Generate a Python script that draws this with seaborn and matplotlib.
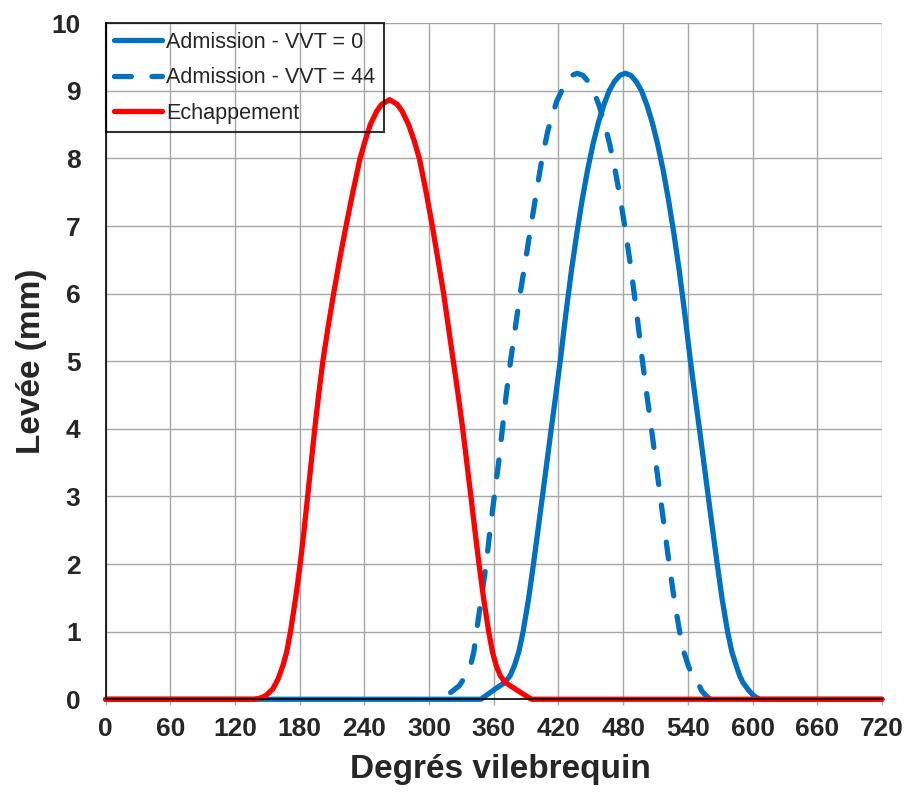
import matplotlib
matplotlib.use('Agg')
import matplotlib.pyplot as plt
import seaborn as sns
import pandas as pd

# Values (crank angle in degrees, lift in mm)
crank_adm_0 = [0, 348, 355, 362, 370.5, 375.2, 379.2, 383.2, 387.2, 392.4,
               396.8, 401, 405.1, 409.2, 413.3, 417.5, 422, 427, 432, 437, 442,
               447, 452, 457, 462, 467, 472, 477, 482, 487, 492, 497, 502, 507,
               512, 517, 522, 527, 532, 537, 542, 546.5, 550.7, 554.8, 558.9,
               563, 567.2, 571.6, 576.8, 580.8, 584.8, 588, 591, 597, 602, 607,
               720]
lift_adm_0 = [0, 0, 0.08, 0.16, 0.25, 0.35, 0.5, 0.7, 1.0, 1.5,
              2.0, 2.5, 3.0, 3.5, 4.0, 4.5, 5.05, 5.72, 6.34, 6.89, 7.39,
              7.83, 8.21, 8.53, 8.79, 9.0, 9.14, 9.23, 9.26, 9.23, 9.14, 9.0,
              8.79, 8.53, 8.21, 7.83, 7.39, 6.89, 6.34, 5.72, 5.05, 4.5, 4.0,
              3.5, 3.0, 2.5, 2.0, 1.5, 1.0, 0.7, 0.5, 0.35, 0.25, 0.12, 0.04,
              0, 0]

crank_adm_44 = [320, 328, 334, 338.5, 341.5, 344, 348.5, 353, 356.5, 360.5,
                364.5, 368, 371.5, 375.5, 380, 384.5, 389.5, 394.5, 399.5,
                404.8, 410, 414.5, 418.5, 423, 427.5, 432.5, 437.5, 442.5,
                447.5, 452.5, 457.5, 462.5, 467.5, 472.5, 477.5, 482.5, 487.5,
                492.5, 497.5, 502, 506.2, 510.3, 514.4, 518.5, 522.7, 527.1,
                532.3, 536.3, 540.3, 544.3, 549, 553, 557, 561]
lift_adm_44 = [0.1, 0.2, 0.35, 0.5, 0.7, 1.0, 1.5, 2.0, 2.5, 3.0,
               3.5, 4.0, 4.5, 5.0, 5.5, 6.0, 6.5, 7.0, 7.5,
               8.0, 8.4, 8.65, 8.85, 9.0, 9.14, 9.23, 9.26, 9.23,
               9.14, 9.0, 8.79, 8.53, 8.21, 7.83, 7.39, 6.89, 6.34,
               5.72, 5.05, 4.5, 4.0, 3.5, 3.0, 2.5, 2.0, 1.5,
               1.0, 0.7, 0.5, 0.35, 0.25, 0.12, 0.05, 0]

crank_ech = [0, 138, 144, 149, 155, 160, 164.5, 168, 171.5, 176.3, 180.5,
             184.1, 187.4, 190.7, 194, 197.6, 201.5, 206.3, 211.5, 217, 223,
             229.3, 236, 240.5, 245.5, 251.5, 256, 263.3, 270.5, 275, 281,
             286, 291, 297.3, 303, 308.3, 313.5, 318, 322.5, 327, 331.2, 335,
             338.8, 342.5, 346.3, 350.5, 355.3, 358.8, 362.2, 366, 370.5, 383,
             395, 720]
lift_ech = [0, 0, 0.02, 0.06, 0.15, 0.3, 0.5, 0.7, 1.0, 1.5, 2.0,
            2.5, 3.0, 3.5, 4.0, 4.5, 5.0, 5.5, 6.0, 6.5, 7.0,
            7.5, 8.0, 8.25, 8.5, 8.7, 8.8, 8.87, 8.8, 8.7, 8.5,
            8.27, 8.0, 7.5, 7.0, 6.5, 6.0, 5.5, 5.0, 4.5, 4.0, 3.5,
            3.0, 2.5, 2.0, 1.5, 1.0, 0.7, 0.5, 0.35, 0.25, 0.12,
            0, 0]

series_names = ['Admission - VVT = 0', 'Admission - VVT = 44', 'Echappement']
x_ticks = [0, 60, 120, 180, 240, 300, 360, 420, 480, 540, 600, 660, 720]
y_ticks = [0, 1, 2, 3, 4, 5, 6, 7, 8, 9, 10]

sns.set_style('whitegrid', {'grid.color': '#a6a6a6', 'axes.edgecolor': 'black'})
plt.rcParams['font.family'] = ['Liberation Sans', 'DejaVu Sans']

fig, ax = plt.subplots(figsize=(9.09, 7.94), dpi=100)
fig.subplots_adjust(left=0.1161, right=0.9703, bottom=0.1193, top=0.9707)

blue = '#0070c0'
red = '#ff0000'
lw = 3.8

sns.lineplot(x=crank_adm_0, y=lift_adm_0, ax=ax, color=blue, linewidth=lw,
             label=series_names[0], clip_on=False, solid_capstyle='round',
             solid_joinstyle='round')
sns.lineplot(x=crank_adm_44, y=lift_adm_44, ax=ax, color=blue, linewidth=lw,
             label=series_names[1], clip_on=False)
ax.lines[-1].set_dashes([3.2, 3.9])
ax.lines[-1].set_dash_capstyle('round')
ax.lines[-1].set_dash_joinstyle('round')
sns.lineplot(x=crank_ech, y=lift_ech, ax=ax, color=red, linewidth=lw,
             label=series_names[2], clip_on=False, solid_capstyle='round',
             solid_joinstyle='round')

ax.set_xlim(0, 720)
ax.set_ylim(0, 10)
ax.set_xticks(x_ticks)
ax.set_yticks(y_ticks)
ax.grid(True, color='#a6a6a6', linewidth=1.0)

for side in ['top', 'right']:
    ax.spines[side].set_visible(False)
for side in ['left', 'bottom']:
    ax.spines[side].set_color('black')
    ax.spines[side].set_linewidth(1.2)

ax.tick_params(axis='x', bottom=True, length=4.5, width=1, color='#a6a6a6',
               pad=8, labelsize=19)
ax.tick_params(axis='y', left=False, length=0, pad=18, labelsize=19)
for lbl in ax.get_xticklabels() + ax.get_yticklabels():
    lbl.set_fontweight('bold')

ax.set_xlabel('Degrés vilebrequin', fontsize=24, fontweight='bold')
ax.set_ylabel('Levée (mm)', fontsize=24, fontweight='bold')
ax.xaxis.set_label_coords(0.508, -0.081)
ax.yaxis.set_label_coords(-0.076, 0.5)

leg = ax.legend(loc='upper left', bbox_to_anchor=(0, 1), borderaxespad=0,
                frameon=True, fancybox=False, edgecolor='black',
                facecolor='none', fontsize=15.6, handlelength=2.2,
                handletextpad=0.2, labelspacing=0.66, borderpad=0.4)
leg.get_frame().set_linewidth(1.5)

fig.savefig('out.png', dpi=100)
